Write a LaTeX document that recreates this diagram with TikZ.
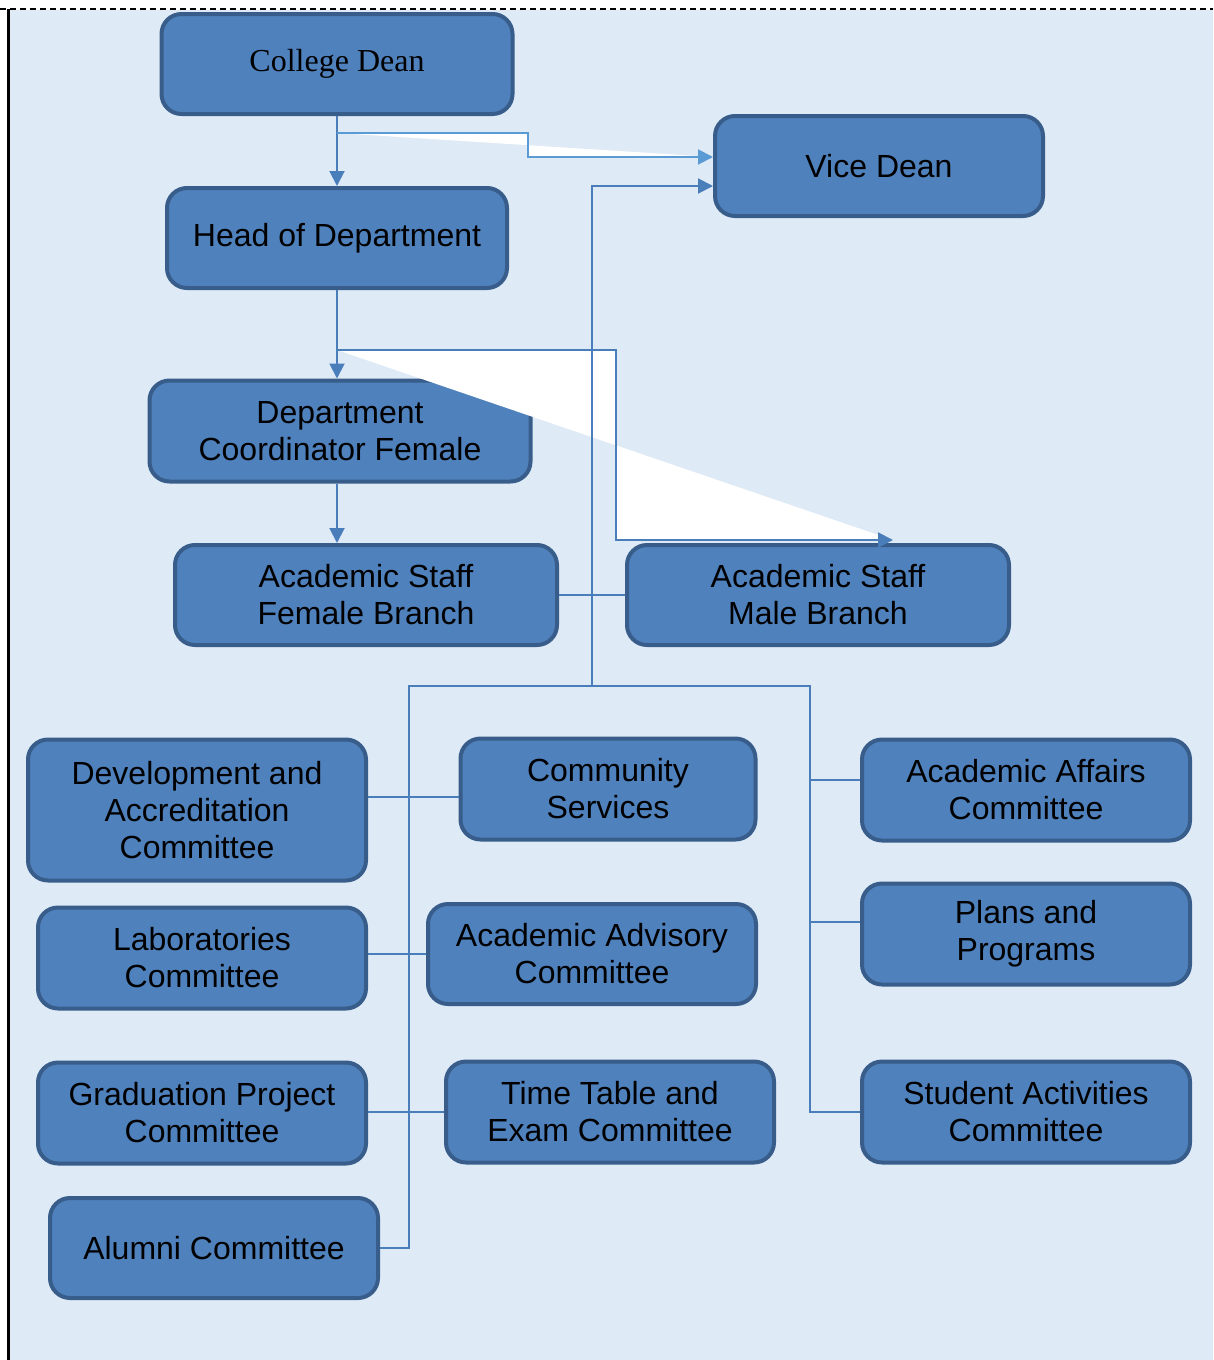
\documentclass[tikz,border=0pt]{standalone}
\usepackage{fontspec}
\setmainfont{Liberation Sans}
\newfontfamily\deanfont{Liberation Serif}
\usetikzlibrary{arrows.meta}
\definecolor{boxfill}{HTML}{4F81BD}
\definecolor{boxline}{HTML}{385D8A}
\definecolor{paper}{HTML}{DEEAF6}
\definecolor{linkblue}{HTML}{4A7EBB}
\definecolor{linklight}{HTML}{5B9BD5}
\tikzset{
  orgbox/.style={draw=boxline, fill=boxfill, line width=4pt, rounded corners=20pt,
    align=center, inner sep=0pt, font=\fontsize{32}{37}\selectfont},
  boxdim/.style 2 args={minimum width=#1pt, minimum height=#2pt},
  link/.style={draw=linkblue, line width=2pt},
  tip/.style={-{Triangle[length=15pt,width=15pt]}},
}
\begin{document}
\begin{tikzpicture}[x=1pt,y=-1pt]
  \useasboundingbox (0,0) rectangle (1213,1360);
  \fill[paper] (9,10) rectangle (1213,1360);
  \draw[line width=3pt] (8,9) -- (8,1360);
  \draw[line width=2pt, dash pattern=on 6pt off 4pt] (0,9) -- (1213,9);

  \node[orgbox, boxdim={351}{100}, font=\deanfont\fontsize{32}{37}\selectfont] (dean) at (337,64) {College Dean};
  \node[orgbox, boxdim={328}{100}] (vice) at (879,166) {Vice Dean};
  \node[orgbox, boxdim={340}{100}] (head) at (337,238) {Head of Department};
  \node[orgbox, boxdim={381}{101}] (coord) at (340,431) {Department\\Coordinator Female};
  \node[orgbox, boxdim={382}{100}] (femstaff) at (366,595) {Academic Staff\\Female Branch};
  \node[orgbox, boxdim={382}{100}] (malestaff) at (818,595) {Academic Staff\\Male Branch};
  \node[orgbox, boxdim={338}{141}] (devacc) at (197,810) {Development and\\Accreditation\\Committee};
  \node[orgbox, boxdim={295}{101}] (community) at (608,789) {Community\\Services};
  \node[orgbox, boxdim={328}{101}] (affairs) at (1026,790) {Academic Affairs\\Committee};
  \node[orgbox, boxdim={328}{101}] (labs) at (202,958) {Laboratories\\Committee};
  \node[orgbox, boxdim={328}{100}] (advisory) at (592,954) {Academic Advisory\\Committee};
  \node[orgbox, boxdim={328}{101}] (plans) at (1026,934) {Plans and\\Programs};
  \node[orgbox, boxdim={328}{101}] (gradproj) at (202,1113) {Graduation Project\\Committee};
  \node[orgbox, boxdim={328}{101}] (timetable) at (610,1112) {Time Table and\\Exam Committee};
  \node[orgbox, boxdim={328}{101}] (activities) at (1026,1112) {Student Activities\\Committee};
  \node[orgbox, boxdim={328}{100}] (alumni) at (214,1248) {Alumni Committee};

  \coordinate (deanjoint) at ([yshift=-17pt]dean.south);
  \coordinate (vicetip) at ([yshift=9pt]vice.west);
  \coordinate (headjoint) at ([yshift=-60pt]head.south);
  \coordinate (maletip) at (893,540);
  \coordinate (trunk) at (592,686);
  \coordinate (busleft) at (409,686);
  \coordinate (busright) at (810,686);
  \coordinate (commlink) at ([yshift=-8pt]community.west);
  \coordinate (affairslink) at ([yshift=10pt]affairs.west);
  \coordinate (planslink) at ([yshift=12pt]plans.west);

  \fill[white] (deanjoint) -- ++(191,0) |- (vicetip) -- cycle;
  \fill[white] (headjoint) -- ++(279,0) |- (maletip) -- cycle;

  \draw[link, tip] (dean.south) -- (head.north);
  \draw[link, draw=linklight, tip] (deanjoint) -- ++(191,0) |- (vicetip);
  \draw[link, tip] (head.south) -- (head.south |- coord.north);
  \draw[link, tip] (headjoint) -- ++(279,0) |- (maletip);
  \draw[link, tip] (coord.south -| head.south) -- (head.south |- femstaff.north);
  \draw[link] (femstaff.east) -- (malestaff.west);
  \draw[link, tip] (trunk) |- ([yshift=-20pt]vice.west);

  \draw[link] (alumni.east) -| (busleft) -- (busright) |- (activities.west);
  \draw[link] (devacc.east |- commlink) -- (commlink);
  \draw[link] (labs.east |- advisory.west) -- (advisory.west);
  \draw[link] (gradproj.east |- timetable.west) -- (timetable.west);
  \draw[link] (busright |- affairslink) -- (affairslink);
  \draw[link] (busright |- planslink) -- (planslink);
\end{tikzpicture}
\end{document}
